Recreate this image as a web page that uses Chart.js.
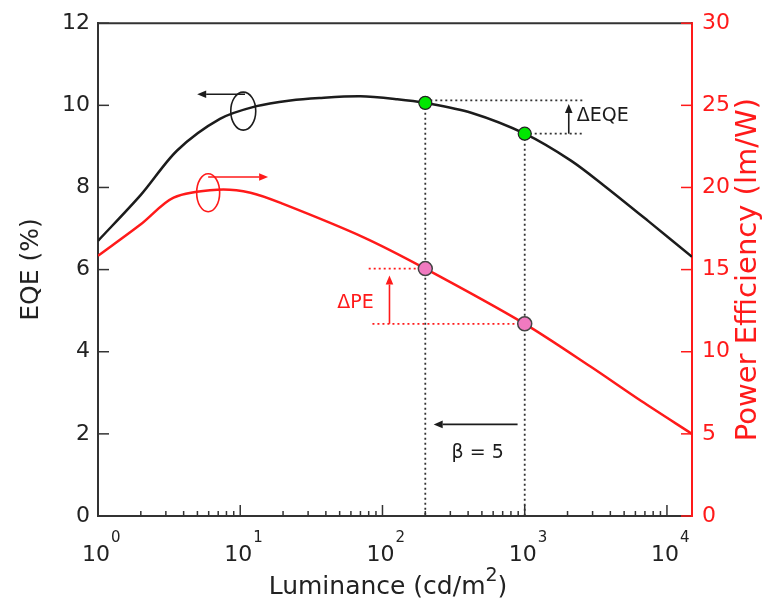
<!DOCTYPE html>
<html>
<head>
<meta charset="utf-8">
<script src="https://cdn.jsdelivr.net/npm/chart.js@4.4.1/dist/chart.umd.min.js"></script>
<style>
  html, body { margin: 0; padding: 0; background: #fff; }
</style>
</head>
<body>
<canvas id="myChart" width="762" height="601"></canvas>
<script>
// values: luminance (cd/m2) vs EQE (%) and power efficiency (lm/W)
const eqeLum = [1, 2, 3.6, 7.2, 13, 22.5, 36, 70, 127, 200, 420, 1000, 2100, 3600, 7400, 15000];
const eqeVal = [6.70, 7.82, 8.90, 9.67, 9.98, 10.12, 10.18, 10.22, 10.15, 10.06, 9.82, 9.31, 8.66, 8.05, 7.18, 6.31];
const peLum = [1, 2, 3.4, 6.9, 11.8, 20, 73, 200, 1000, 2900, 6600, 15000];
const peVal = [15.84, 17.76, 19.38, 19.86, 19.68, 19.0, 16.98, 15.06, 11.7, 9.1, 7.0, 5.0];

// the two compared luminances (beta = 5)
const markLum = [200, 1000];
const markEqe = [10.06, 9.31];
const markPe = [15.06, 11.7];

const decades = [0, 1, 2, 3, 4];

const FONT = '"DejaVu Sans", sans-serif';
const RED = '#ff1a1a';
const INK = '#1c1c1c';

Chart.defaults.font.family = FONT;

const xy = (xs, ys) => xs.map((x, i) => ({ x: x, y: ys[i] }));

function guide(points, color, axis) {
    return {
        data: points,
        yAxisID: axis,
        borderColor: color,
        borderWidth: 1.8,
        borderDash: [2, 3],
        pointRadius: 0,
        tension: 0,
        fill: false
    };
}

function arrow(ctx, x1, y1, x2, y2, color) {
    const a = Math.atan2(y2 - y1, x2 - x1);
    const head = 9, half = 3.8;
    const bx = x2 - head * Math.cos(a), by = y2 - head * Math.sin(a);
    ctx.save();
    ctx.strokeStyle = color;
    ctx.fillStyle = color;
    ctx.lineWidth = 1.6;
    ctx.beginPath();
    ctx.moveTo(x1, y1);
    ctx.lineTo(bx, by);
    ctx.stroke();
    ctx.beginPath();
    ctx.moveTo(x2, y2);
    ctx.lineTo(bx + half * Math.sin(a), by - half * Math.cos(a));
    ctx.lineTo(bx - half * Math.sin(a), by + half * Math.cos(a));
    ctx.closePath();
    ctx.fill();
    ctx.restore();
}

const decor = {
    id: 'decor',
    afterDatasetsDraw(chart) {
        const ctx = chart.ctx;
        const x = chart.scales.x, y = chart.scales.y, y2 = chart.scales.y2;
        const px = v => x.getPixelForValue(v);

        // ellipses marking which axis each curve belongs to
        ctx.save();
        ctx.lineWidth = 1.6;
        ctx.strokeStyle = INK;
        ctx.beginPath();
        ctx.ellipse(px(10.5), y.getPixelForValue(9.86), 12.5, 19, 0, 0, Math.PI * 2);
        ctx.stroke();
        ctx.strokeStyle = RED;
        ctx.beginPath();
        ctx.ellipse(px(5.95), y2.getPixelForValue(19.68), 11.5, 19, 0, 0, Math.PI * 2);
        ctx.stroke();
        ctx.restore();

        arrow(ctx, px(10.8), y.getPixelForValue(10.27), px(4.98), y.getPixelForValue(10.27), INK);
        arrow(ctx, px(5.95), y2.getPixelForValue(20.64), px(15.7), y2.getPixelForValue(20.64), RED);

        // delta arrows
        arrow(ctx, px(2040), y.getPixelForValue(markEqe[1]), px(2040), y.getPixelForValue(10.03), INK);
        arrow(ctx, px(112), y2.getPixelForValue(markPe[1]), px(112), y2.getPixelForValue(14.64), RED);
        arrow(ctx, px(891), y.getPixelForValue(2.23), px(229), y.getPixelForValue(2.23), INK);

        ctx.save();
        ctx.font = '19px ' + FONT;
        ctx.textBaseline = 'middle';
        ctx.fillStyle = INK;
        ctx.textAlign = 'left';
        ctx.fillText('ΔEQE', px(2320), y.getPixelForValue(9.74));
        ctx.textAlign = 'center';
        ctx.fillText('β = 5', px(467), y.getPixelForValue(1.54));
        ctx.fillStyle = RED;
        ctx.fillText('ΔPE', px(64.6), y2.getPixelForValue(12.96));
        ctx.restore();
    },
    afterDraw(chart) {
        const ctx = chart.ctx;
        const area = chart.chartArea;
        const x = chart.scales.x, y = chart.scales.y, y2 = chart.scales.y2;

        ctx.save();
        // top frame line
        ctx.strokeStyle = '#333';
        ctx.lineWidth = 2;
        ctx.beginPath();
        ctx.moveTo(area.left, area.top);
        ctx.lineTo(area.right, area.top);
        ctx.stroke();

        // inward tick marks
        ctx.lineWidth = 1.5;
        y.ticks.forEach(t => {
            const p = y.getPixelForValue(t.value);
            ctx.beginPath();
            ctx.moveTo(area.left, p);
            ctx.lineTo(area.left + 11, p);
            ctx.stroke();
        });
        decades.forEach(d => {
            for (let m = 1; m <= 9; m++) {
                const v = m * Math.pow(10, d);
                if (v > x.max) break;
                const p = x.getPixelForValue(v);
                ctx.beginPath();
                ctx.moveTo(p, area.bottom);
                ctx.lineTo(p, area.bottom - (m === 1 ? 11 : 5));
                ctx.stroke();
            }
        });
        ctx.strokeStyle = RED;
        y2.ticks.forEach(t => {
            const p = y2.getPixelForValue(t.value);
            ctx.beginPath();
            ctx.moveTo(area.right, p);
            ctx.lineTo(area.right - 11, p);
            ctx.stroke();
        });

        // decade labels 10^n
        ctx.fillStyle = '#222';
        ctx.textBaseline = 'middle';
        decades.forEach(d => {
            const p = x.getPixelForValue(Math.pow(10, d));
            ctx.font = '22px ' + FONT;
            ctx.textAlign = 'center';
            ctx.fillText('10', p - 2, area.bottom + 39);
            const w = ctx.measureText('10').width;
            ctx.font = '15px ' + FONT;
            ctx.textAlign = 'left';
            ctx.fillText(String(d), p - 2 + w / 2 + 1, area.bottom + 22);
        });

        // x title with superscript
        ctx.textBaseline = 'alphabetic';
        ctx.textAlign = 'left';
        const main = 'Luminance (cd/m';
        ctx.font = '25px ' + FONT;
        const w1 = ctx.measureText(main).width;
        const w3 = ctx.measureText(')').width;
        ctx.font = '19px ' + FONT;
        const w2 = ctx.measureText('2').width;
        let sx = 388 - (w1 + w2 + w3) / 2;
        ctx.font = '25px ' + FONT;
        ctx.fillText(main, sx, 594);
        ctx.font = '19px ' + FONT;
        ctx.fillText('2', sx + w1, 581);
        ctx.font = '25px ' + FONT;
        ctx.fillText(')', sx + w1 + w2, 594);

        // right title, reading upward
        ctx.translate(748, (area.top + area.bottom) / 2);
        ctx.rotate(-Math.PI / 2);
        ctx.fillStyle = RED;
        ctx.font = '29px ' + FONT;
        ctx.textAlign = 'center';
        ctx.textBaseline = 'middle';
        ctx.fillText('Power Efficiency (lm/W)', 0, 0);
        ctx.restore();
    }
};

const ctx = document.getElementById('myChart').getContext('2d');
const myChart = new Chart(ctx, {
    type: 'line',
    data: {
        datasets: [
            {
                data: xy(markLum, markEqe),
                yAxisID: 'y',
                showLine: false,
                pointRadius: 6.5,
                pointBackgroundColor: '#00e600',
                pointBorderColor: '#222',
                pointBorderWidth: 1.2
            },
            {
                data: xy(markLum, markPe),
                yAxisID: 'y2',
                showLine: false,
                pointRadius: 7,
                pointBackgroundColor: '#f07ac0',
                pointBorderColor: '#444',
                pointBorderWidth: 1.5
            },
            {
                label: 'EQE',
                data: xy(eqeLum, eqeVal),
                yAxisID: 'y',
                borderColor: INK,
                borderWidth: 2.5,
                pointRadius: 0,
                tension: 0.3,
                fill: false
            },
            {
                label: 'Power efficiency',
                data: xy(peLum, peVal),
                yAxisID: 'y2',
                borderColor: RED,
                borderWidth: 2.5,
                pointRadius: 0,
                tension: 0.3,
                fill: false
            },
            guide([{ x: markLum[0], y: markEqe[0] }, { x: markLum[0], y: 0 }], '#333', 'y'),
            guide([{ x: markLum[1], y: markEqe[1] }, { x: markLum[1], y: 0 }], '#333', 'y'),
            guide([{ x: markLum[0], y: 10.12 }, { x: 2600, y: 10.12 }], '#333', 'y'),
            guide([{ x: markLum[1], y: markEqe[1] }, { x: 2600, y: markEqe[1] }], '#333', 'y'),
            guide([{ x: 80, y: markPe[0] }, { x: markLum[0], y: markPe[0] }], RED, 'y2'),
            guide([{ x: 85, y: markPe[1] }, { x: markLum[1], y: markPe[1] }], RED, 'y2')
        ]
    },
    options: {
        responsive: false,
        animation: false,
        devicePixelRatio: 1,
        layout: { padding: { top: 16, left: 0, right: 0, bottom: 0 } },
        plugins: {
            legend: { display: false },
            tooltip: { enabled: false }
        },
        scales: {
            x: {
                type: 'logarithmic',
                min: 1,
                max: 15000,
                grid: { display: false, drawTicks: false },
                ticks: { display: false },
                border: { color: '#333', width: 2 },
                afterFit: s => { s.height = 85; }
            },
            y: {
                position: 'left',
                min: 0,
                max: 12,
                grid: { display: false, drawTicks: false },
                border: { color: '#333', width: 2 },
                ticks: { stepSize: 2, color: '#222', font: { size: 22 }, padding: 8 },
                title: {
                    display: true,
                    text: 'EQE (%)',
                    color: '#222',
                    font: { size: 25 },
                    padding: { top: 16, bottom: 0 }
                },
                afterFit: s => { s.width = 98; }
            },
            y2: {
                position: 'right',
                min: 0,
                max: 30,
                grid: { display: false, drawTicks: false },
                border: { color: RED, width: 2 },
                ticks: { stepSize: 5, color: RED, font: { size: 22 }, padding: 10 },
                afterFit: s => { s.width = 70; }
            }
        }
    },
    plugins: [decor]
});
</script>
</body>
</html>
